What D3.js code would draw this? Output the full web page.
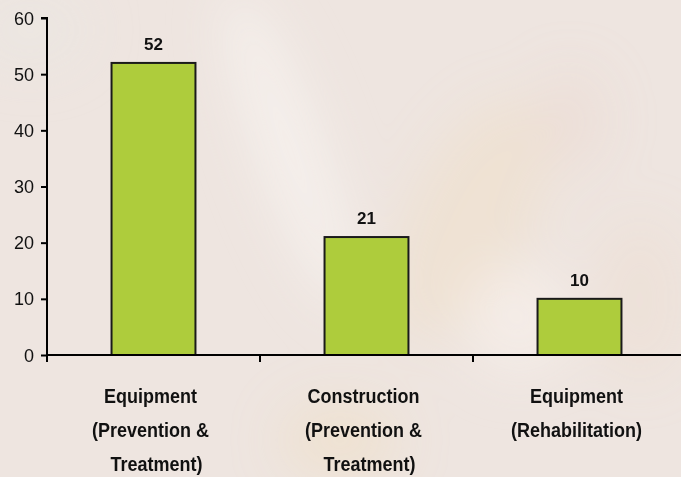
<!DOCTYPE html>
<html>
<head>
<meta charset="utf-8">
<script src="https://cdn.jsdelivr.net/npm/d3@7"></script>
<style>
  html, body { margin: 0; padding: 0; background: #eee5e0; }
  svg { display: block; font-family: "Liberation Sans", Arial, sans-serif; }
</style>
</head>
<body>
<div id="chart"></div>
<script>
// chart data
var categories = ["Equipment (Prevention & Treatment)", "Construction (Prevention & Treatment)", "Equipment (Rehabilitation)"];
var labelLines = [["Equipment", "(Prevention &", "Treatment)"], ["Construction", "(Prevention &", "Treatment)"], ["Equipment", "(Rehabilitation)"]];
var values = [52, 21, 10];
var yTicks = [0, 10, 20, 30, 40, 50, 60];

// washed out photo behind the chart, just soft blobs
var blobs = [
	{ cx: 290, cy: 150, rx: 35, ry: 170, c: "#f6f1ed", o: 0.8, r: -20 },
	{ cx: 470, cy: 220, rx: 60, ry: 130, c: "#f0dcbc", o: 0.35, r: 25 },
	{ cx: 570, cy: 120, rx: 35, ry: 50, c: "#ead2c8", o: 0.3, r: 0 },
	{ cx: 340, cy: 440, rx: 60, ry: 40, c: "#f1dcb8", o: 0.35, r: 0 },
	{ cx: 520, cy: 320, rx: 55, ry: 55, c: "#f6f0ea", o: 0.7, r: 0 },
	{ cx: 640, cy: 300, rx: 45, ry: 80, c: "#eedccb", o: 0.3, r: 0 },
	{ cx: 30, cy: 30, rx: 60, ry: 40, c: "#e9e9e3", o: 0.4, r: 0 }
];

function drawChart(sel) {
	var width = 681, height = 477;
	var x0 = 47, x1 = 686, yBottom = 355, yTop = 18;

	var svg = d3.select(sel)
		.append("svg")
		.attr("width", width)
		.attr("height", height);

	var defs = svg.append("defs");
	defs.append("filter").attr("id", "blur")
		.attr("x", "-50%").attr("y", "-50%").attr("width", "200%").attr("height", "200%")
		.append("feGaussianBlur").attr("stdDeviation", 25);

	svg.append("rect").attr("width", width).attr("height", height).attr("fill", "#eee5e0");
	svg.append("g").attr("filter", "url(#blur)")
		.selectAll("ellipse")
		.data(blobs)
		.enter()
		.append("ellipse")
		.attr("transform", function (d) { return "translate(" + d.cx + "," + d.cy + ") rotate(" + d.r + ")"; })
		.attr("rx", function (d) { return d.rx; })
		.attr("ry", function (d) { return d.ry; })
		.attr("fill", function (d) { return d.c; })
		.attr("opacity", function (d) { return d.o; });

	var x = d3.scaleBand()
		.domain(categories)
		.range([x0, x1])
		.paddingInner(0.606)
		.paddingOuter(0.303);

	var y = d3.scaleLinear()
		.domain([0, 60])
		.range([yBottom, yTop]);

	// y axis
	var yAxis = svg.append("g")
		.attr("transform", "translate(" + x0 + ",0)")
		.call(d3.axisLeft(y).tickValues(yTicks).tickSize(6).tickPadding(7));
	yAxis.select(".domain").attr("stroke", "#000").attr("stroke-width", 2).attr("d", "M-6," + yTop + "H0V" + yBottom);
	yAxis.selectAll(".tick line").attr("stroke", "#000").attr("stroke-width", 2);
	yAxis.selectAll(".tick text")
		.attr("fill", "#111")
		.style("font-size", "18px")
		.attr("dy", "0.34em");

	// bars
	svg.append("g")
		.selectAll("rect")
		.data(values)
		.enter()
		.append("rect")
		.attr("x", function (d, i) { return x(categories[i]); })
		.attr("y", function (d) { return y(d); })
		.attr("width", x.bandwidth())
		.attr("height", function (d) { return y(0) - y(d); })
		.attr("fill", "#aecc3c")
		.attr("stroke", "#1a1a1a")
		.attr("stroke-width", 2);

	// value labels
	svg.append("g")
		.selectAll("text")
		.data(values)
		.enter()
		.append("text")
		.attr("x", function (d, i) { return x(categories[i]) + x.bandwidth() / 2; })
		.attr("y", function (d) { return y(d) - 13; })
		.attr("text-anchor", "middle")
		.attr("fill", "#111")
		.style("font-size", "17px")
		.style("font-weight", "bold")
		.text(function (d) { return d; });

	// x axis line with ticks at the band edges
	var step = x.step();
	var edges = categories.map(function (c) { return x(c) - step * x.paddingOuter(); });
	svg.append("line")
		.attr("x1", x0 - 1).attr("x2", x1)
		.attr("y1", yBottom).attr("y2", yBottom)
		.attr("stroke", "#000").attr("stroke-width", 2);
	svg.append("g")
		.selectAll("line")
		.data(edges)
		.enter()
		.append("line")
		.attr("x1", function (d) { return d; }).attr("x2", function (d) { return d; })
		.attr("y1", yBottom).attr("y2", yBottom + 7)
		.attr("stroke", "#000").attr("stroke-width", 2);

	// category labels, wrapped
	var lab = svg.append("g")
		.selectAll("text")
		.data(labelLines)
		.enter()
		.append("text")
		.attr("text-anchor", "middle")
		.attr("fill", "#111")
		.style("font-size", "18px")
		.style("font-weight", "bold")
		.attr("transform", function (d, i) {
			return "translate(" + (x(categories[i]) + x.bandwidth() / 2 - 3) + "," + (yBottom + 48) + ") scale(1,1.1)";
		});
	lab.selectAll("tspan")
		.data(function (d) { return d; })
		.enter()
		.append("tspan")
		.attr("x", function (d, j) { return j == 2 ? 6 : 0; })
		.attr("y", function (d, j) { return j * 31; })
		.text(function (d) { return d; });
}

drawChart("#chart");
</script>
</body>
</html>
